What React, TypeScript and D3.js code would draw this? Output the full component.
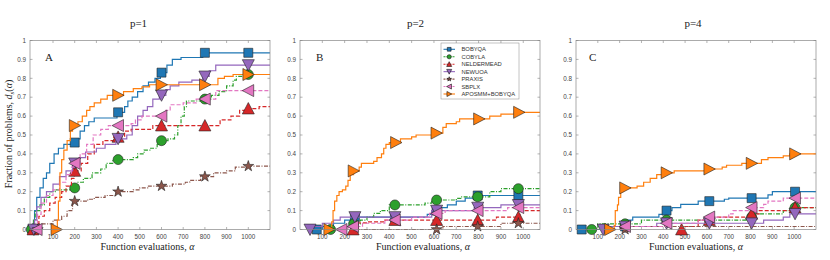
import React, { useEffect, useRef } from 'react';
import * as d3 from 'd3';

const seriesNames = ['BOBYQA', 'COBYLA', 'NELDERMEAD', 'NEWUOA', 'PRAXIS', 'SBPLX', 'APOSMM+BOBYQA'];
const seriesColors = ['#1f77b4', '#2ca02c', '#d62728', '#9467bd', '#8c564b', '#e377c2', '#ff7f0e'];
const seriesDash = ['', '4,1.5,1,1.5', '4,2', '', '4,1.5,1,1.5', '4,2', ''];
const seriesMarker = ['square', 'circle', 'up', 'down', 'star', 'left', 'right'];

const panelTitles = ['p=1', 'p=2', 'p=4'];
const panelLetters = ['A', 'B', 'C'];
const xTickValues = [100, 200, 300, 400, 500, 600, 700, 800, 900, 1000];
const yTickValues = [0, 0.1, 0.2, 0.3, 0.4, 0.5, 0.6, 0.7, 0.8, 0.9, 1];

// panel A (p=1): step points [evaluations, fraction]
const a_bobyqa = [[0, 0], [8, 0.03], [15, 0.1], [25, 0.17], [40, 0.22], [55, 0.27], [70, 0.3], [85, 0.35], [105, 0.4], [125, 0.43], [150, 0.45], [185, 0.46], [210, 0.48], [225, 0.52], [245, 0.55], [265, 0.57], [290, 0.59], [395, 0.62], [430, 0.65], [445, 0.68], [465, 0.7], [490, 0.73], [515, 0.76], [540, 0.78], [570, 0.8], [595, 0.83], [625, 0.87], [650, 0.9], [690, 0.91], [790, 0.935]];
const a_cobyla = [[0, 0], [10, 0.05], [18, 0.1], [40, 0.13], [60, 0.17], [85, 0.2], [110, 0.21], [190, 0.22], [215, 0.25], [240, 0.27], [280, 0.3], [320, 0.32], [345, 0.35], [375, 0.37], [470, 0.38], [490, 0.4], [520, 0.42], [550, 0.43], [580, 0.45], [595, 0.47], [630, 0.48], [660, 0.5], [675, 0.55], [690, 0.6], [705, 0.65], [715, 0.68], [790, 0.69], [830, 0.71], [865, 0.73], [900, 0.76], [930, 0.79], [945, 0.81], [990, 0.82]];
const a_nelder = [[0, 0], [20, 0.03], [35, 0.07], [60, 0.1], [85, 0.14], [110, 0.17], [140, 0.2], [160, 0.23], [185, 0.27], [198, 0.31], [230, 0.35], [260, 0.4], [290, 0.45], [330, 0.47], [380, 0.49], [430, 0.52], [460, 0.53], [560, 0.55], [870, 0.58], [920, 0.6], [960, 0.63], [1000, 0.64], [1050, 0.65]];
const a_newuoa = [[0, 0], [14, 0.05], [25, 0.12], [45, 0.17], [70, 0.2], [100, 0.24], [130, 0.28], [160, 0.31], [190, 0.35], [220, 0.38], [250, 0.41], [300, 0.43], [340, 0.45], [390, 0.48], [440, 0.5], [465, 0.55], [490, 0.6], [515, 0.63], [535, 0.65], [560, 0.69], [590, 0.71], [620, 0.74], [640, 0.76], [680, 0.78], [740, 0.79], [790, 0.81], [820, 0.84], [850, 0.87]];
const a_praxis = [[0, 0], [35, 0.03], [100, 0.05], [140, 0.07], [165, 0.1], [190, 0.15], [260, 0.16], [290, 0.17], [340, 0.18], [390, 0.2], [470, 0.21], [500, 0.22], [540, 0.23], [650, 0.24], [710, 0.25], [730, 0.26], [780, 0.28], [840, 0.3], [900, 0.31], [940, 0.33], [1000, 0.335]];
const a_sbplx = [[0, 0], [28, 0.08], [45, 0.14], [70, 0.18], [100, 0.21], [130, 0.25], [160, 0.29], [185, 0.33], [195, 0.35], [225, 0.4], [255, 0.45], [285, 0.5], [320, 0.53], [355, 0.55], [460, 0.56], [480, 0.58], [510, 0.6], [620, 0.63], [640, 0.66], [700, 0.67], [760, 0.69], [850, 0.735]];
const a_aposmm = [[112, 0], [120, 0.05], [125, 0.15], [132, 0.3], [140, 0.37], [150, 0.42], [165, 0.47], [180, 0.52], [190, 0.55], [215, 0.57], [235, 0.6], [255, 0.63], [270, 0.65], [290, 0.67], [320, 0.69], [350, 0.71], [425, 0.73], [470, 0.745], [510, 0.755], [545, 0.766], [860, 0.8], [890, 0.81], [930, 0.82]];

// panel B (p=2)
const b_bobyqa = [[75, 0], [100, 0.016], [150, 0.033], [200, 0.05], [230, 0.066], [570, 0.08], [590, 0.1], [620, 0.116], [660, 0.13], [700, 0.15], [740, 0.166], [790, 0.18]];
const b_cobyla = [[127, 0], [200, 0.016], [230, 0.03], [270, 0.05], [300, 0.066], [330, 0.085], [360, 0.1], [400, 0.13], [560, 0.14], [590, 0.156], [700, 0.165], [720, 0.173], [850, 0.2], [900, 0.216]];
const b_nelder = [[231, 0], [260, 0.035], [300, 0.04], [380, 0.05], [880, 0.066], [985, 0.1]];
const b_newuoa = [[45, 0], [60, 0.016], [100, 0.033], [150, 0.05], [180, 0.066], [590, 0.1], [780, 0.116], [900, 0.13]];
const b_praxis = [[250, 0], [640, 0.016], [900, 0.033]];
const b_sbplx = [[186, 0], [215, 0.016], [280, 0.033], [380, 0.05], [500, 0.066], [580, 0.085], [650, 0.1], [930, 0.116]];
const b_aposmm = [[131, 0], [142, 0.04], [148, 0.1], [155, 0.15], [165, 0.18], [175, 0.2], [190, 0.21], [205, 0.23], [215, 0.26], [225, 0.29], [240, 0.31], [265, 0.33], [275, 0.35], [330, 0.36], [345, 0.38], [365, 0.4], [375, 0.43], [385, 0.45], [400, 0.46], [450, 0.48], [500, 0.49], [520, 0.5], [600, 0.51], [640, 0.54], [655, 0.56], [700, 0.57], [715, 0.585], [850, 0.6], [900, 0.61], [960, 0.62]];

// panel C (p=4)
const c_bobyqa = [[26, 0], [140, 0.016], [230, 0.05], [260, 0.066], [380, 0.08], [405, 0.1], [440, 0.116], [480, 0.133], [560, 0.15], [680, 0.16], [700, 0.166], [880, 0.183], [900, 0.2]];
const c_cobyla = [[72, 0], [100, 0.03], [300, 0.05], [780, 0.066], [820, 0.083], [950, 0.1], [980, 0.116]];
const c_nelder = [[484, 0], [500, 0.016], [560, 0.05], [620, 0.066], [800, 0.083], [840, 0.1], [990, 0.116]];
const c_newuoa = [[125, 0], [150, 0.016], [370, 0.033], [860, 0.05], [950, 0.066], [980, 0.083]];
const c_praxis = [[200, 0], [230, 0.016]];
const c_sbplx = [[200, 0], [215, 0.016], [410, 0.033], [560, 0.05], [600, 0.066], [700, 0.083], [720, 0.1], [790, 0.116], [860, 0.133], [880, 0.15], [950, 0.166]];
const c_aposmm = [[156, 0], [175, 0.02], [180, 0.1], [190, 0.13], [195, 0.17], [205, 0.2], [215, 0.22], [280, 0.23], [310, 0.25], [340, 0.27], [370, 0.29], [400, 0.3], [450, 0.31], [600, 0.32], [670, 0.33], [690, 0.34], [760, 0.35], [850, 0.37], [880, 0.38], [950, 0.39], [980, 0.4]];

// where the markers sit along each curve
const a_marks = [[5, 200, 400, 600, 800, 1000], [0, 200, 400, 600, 800, 1000], [8, 200, 400, 600, 800, 1000], [12, 200, 400, 600, 800, 1000], [30, 200, 400, 600, 800, 1000], [25, 200, 400, 600, 800, 1000], [116, 200, 400, 600, 800, 1000]];
const b_marks = [[75, 246, 425, 612, 796, 978], [137, 240, 425, 612, 796, 978], [238, 425, 612, 796, 978], [45, 246, 425, 612, 796, 978], [612, 796, 978], [186, 238, 425, 612, 796, 978], [131, 240, 430, 611, 802, 981]];
const c_marks = [[26, 225, 415, 611, 805, 1004], [72, 225, 415, 611, 805, 1004], [484, 611, 805, 1004], [125, 225, 415, 611, 805, 1004], [225], [225, 415, 611, 805, 1004], [156, 225, 415, 611, 805, 1004]];

const panels = [
  { x0: 30, x1: 270, domain: [-6, 1100], titleX: 138.5, labelX: 147.5, letterX: 45, series: [a_bobyqa, a_cobyla, a_nelder, a_newuoa, a_praxis, a_sbplx, a_aposmm], marks: a_marks },
  { x0: 300, x1: 540, domain: [0, 1075], titleX: 415.5, labelX: 423, letterX: 316, series: [b_bobyqa, b_cobyla, b_nelder, b_newuoa, b_praxis, b_sbplx, b_aposmm], marks: b_marks },
  { x0: 576, x1: 816, domain: [0, 1100], titleX: 693, labelX: 696, letterX: 589, series: [c_bobyqa, c_cobyla, c_nelder, c_newuoa, c_praxis, c_sbplx, c_aposmm], marks: c_marks },
];

const top = 40.5;
const bottom = 229.5;
const serif = '"Liberation Serif", "Times New Roman", serif';
const sans = '"Liberation Sans", Arial, sans-serif';

const markerPath = (kind, s) => {
  if (kind === 'square') return `M${-4.5 * s},${-4.5 * s}h${9 * s}v${9 * s}h${-9 * s}z`;
  if (kind === 'circle') return d3.symbol(d3.symbolCircle, Math.PI * 25 * s * s)();
  if (kind === 'star') return d3.symbol(d3.symbolStar, 36 * s * s)();
  const r = 6 * s;
  if (kind === 'up') return `M0,${-r}L${r},${r * 0.9}L${-r},${r * 0.9}Z`;
  if (kind === 'down') return `M0,${r}L${r},${-r * 0.9}L${-r},${-r * 0.9}Z`;
  if (kind === 'left') return `M${-r},0L${r * 0.9},${-r}L${r * 0.9},${r}Z`;
  return `M${r},0L${-r * 0.9},${-r}L${-r * 0.9},${r}Z`;
};

const stepAt = (pts, x) => {
  let y = pts[0][1];
  pts.forEach(p => { if (p[0] <= x) y = p[1]; });
  return y;
};

const App = () => {
  const svgRef = useRef(null);

  useEffect(() => {
    const svg = d3.select(svgRef.current);
    svg.selectAll('*').remove();

    const y = d3.scaleLinear().domain([0, 1]).range([bottom, top]);

    panels.forEach((p, pi) => {
      const x = d3.scaleLinear().domain(p.domain).range([p.x0, p.x1]);
      const g = svg.append('g');

      g.append('rect')
        .attr('x', p.x0).attr('y', top)
        .attr('width', p.x1 - p.x0).attr('height', bottom - top)
        .attr('fill', '#fff');

      // ticks on all four sides
      xTickValues.forEach(t => {
        g.append('line').attr('x1', x(t)).attr('x2', x(t)).attr('y1', bottom).attr('y2', bottom - 2.5).attr('stroke', '#666').attr('stroke-width', 0.5);
        g.append('line').attr('x1', x(t)).attr('x2', x(t)).attr('y1', top).attr('y2', top + 2.5).attr('stroke', '#666').attr('stroke-width', 0.5);
        g.append('text').attr('x', x(t)).attr('y', bottom + 9.5)
          .attr('text-anchor', 'middle').attr('font-family', sans).attr('font-size', 6.3).attr('fill', '#444')
          .text(t);
      });
      yTickValues.forEach(t => {
        g.append('line').attr('x1', p.x0).attr('x2', p.x0 + 2.5).attr('y1', y(t)).attr('y2', y(t)).attr('stroke', '#666').attr('stroke-width', 0.5);
        g.append('line').attr('x1', p.x1).attr('x2', p.x1 - 2.5).attr('y1', y(t)).attr('y2', y(t)).attr('stroke', '#666').attr('stroke-width', 0.5);
        g.append('text').attr('x', p.x0 - 4).attr('y', y(t) + 2.2)
          .attr('text-anchor', 'end').attr('font-family', sans).attr('font-size', 6.3).attr('fill', '#444')
          .text(t === 0 ? '0' : t === 1 ? '1' : d3.format('.1f')(t));
      });

      const clipId = `clip-${pi}`;
      svg.append('clipPath').attr('id', clipId)
        .append('rect').attr('x', p.x0).attr('y', top - 8).attr('width', p.x1 - p.x0).attr('height', bottom - top + 16);

      const line = d3.line().x(d => x(d[0])).y(d => y(d[1])).curve(d3.curveStepAfter);
      const plot = g.append('g');

      p.series.forEach((pts, si) => {
        const full = pts.concat([[p.domain[1], pts[pts.length - 1][1]]]);
        plot.append('path')
          .datum(full)
          .attr('clip-path', `url(#${clipId})`)
          .attr('fill', 'none')
          .attr('stroke', seriesColors[si])
          .attr('stroke-width', 1.2)
          .attr('stroke-dasharray', seriesDash[si] || null)
          .attr('d', line);

        plot.selectAll(`.mk-${si}`)
          .data(p.marks[si])
          .enter().append('path')
          .attr('class', `mk-${si}`)
          .attr('transform', mx => `translate(${x(mx)},${y(stepAt(pts, mx))})`)
          .attr('d', markerPath(seriesMarker[si], 1))
          .attr('fill', seriesColors[si])
          .attr('stroke', '#222')
          .attr('stroke-width', 0.6);
      });

      g.append('rect')
        .attr('x', p.x0).attr('y', top)
        .attr('width', p.x1 - p.x0).attr('height', bottom - top)
        .attr('fill', 'none').attr('stroke', '#888').attr('stroke-width', 0.7);

      g.append('text').attr('x', p.titleX).attr('y', 27)
        .attr('text-anchor', 'middle').attr('font-family', serif).attr('font-size', 11).attr('fill', '#222')
        .text(panelTitles[pi]);

      g.append('text').attr('x', p.letterX).attr('y', 61)
        .attr('font-family', serif).attr('font-size', 11).attr('fill', '#222')
        .text(panelLetters[pi]);

      const xl = g.append('text').attr('x', p.labelX).attr('y', 250)
        .attr('text-anchor', 'middle').attr('font-family', serif).attr('font-size', 10).attr('fill', '#222');
      xl.append('tspan').text('Function evaluations, ');
      xl.append('tspan').attr('font-style', 'italic').text('α');
    });

    // y axis label on the first panel
    const yl = svg.append('text')
      .attr('transform', 'translate(12,134) rotate(-90)')
      .attr('text-anchor', 'middle').attr('font-family', serif).attr('font-size', 10).attr('fill', '#222');
    yl.append('tspan').text('Fraction of problems, ');
    yl.append('tspan').attr('font-style', 'italic').text('d');
    yl.append('tspan').attr('font-style', 'italic').attr('font-size', 7).attr('dy', 2).text('s');
    yl.append('tspan').attr('dy', -2).text('(');
    yl.append('tspan').attr('font-style', 'italic').text('α');
    yl.append('tspan').text(')');

    // legend in panel B
    const lg = svg.append('g').attr('transform', 'translate(441,43)');
    lg.append('rect').attr('width', 78).attr('height', 56).attr('fill', '#fff').attr('stroke', '#888').attr('stroke-width', 0.5);
    seriesNames.forEach((name, i) => {
      const ry = 6.3 + i * 7.45;
      lg.append('line').attr('x1', 2.5).attr('x2', 14).attr('y1', ry).attr('y2', ry)
        .attr('stroke', seriesColors[i]).attr('stroke-width', 1.1)
        .attr('stroke-dasharray', seriesDash[i] ? '2,1' : null);
      lg.append('path').attr('transform', `translate(8.2,${ry})`)
        .attr('d', markerPath(seriesMarker[i], 0.42))
        .attr('fill', seriesColors[i]).attr('stroke', '#111').attr('stroke-width', 0.6);
      lg.append('text').attr('x', 20.5).attr('y', ry + 2.1)
        .attr('font-family', sans).attr('font-size', 5.8).attr('fill', '#333')
        .text(name);
    });
  }, []);

  return <svg ref={svgRef} width={830} height={260} style={{ position: 'absolute', left: 0, top: 0, background: '#fff' }} />;
};

export default App;
